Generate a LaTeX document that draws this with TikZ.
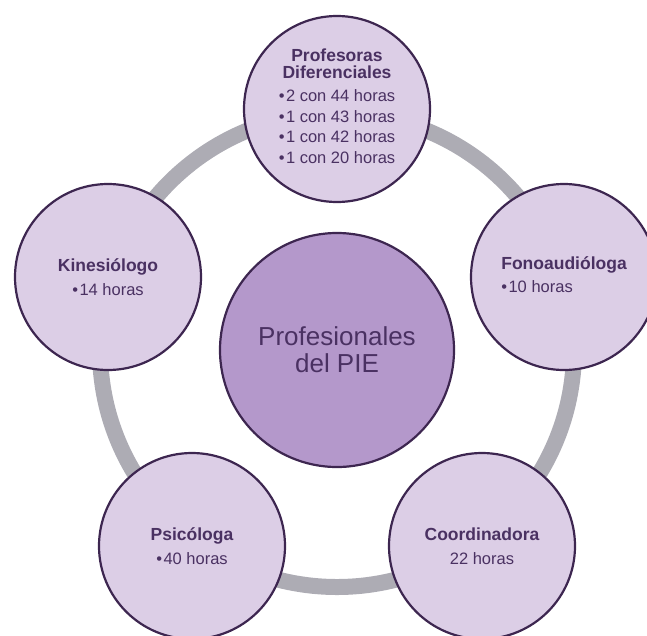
\documentclass[tikz,border=0pt]{standalone}
\usepackage{fontspec}
\setmainfont{Liberation Sans}
\definecolor{ringgray}{HTML}{ADACB4}
\definecolor{lightlav}{HTML}{DCCEE6}
\definecolor{midlav}{HTML}{B498CB}
\definecolor{edgepurple}{HTML}{3D2650}
\definecolor{textpurple}{HTML}{4A3162}
\newcommand{\ttlfont}{\fontsize{17.5}{17.5}\selectfont\bfseries}
\newcommand{\bul}{•\hspace{1.5pt}}
\begin{document}
\begin{tikzpicture}[x=1pt,y=-1pt,
  outer/.style={circle, draw=edgepurple, line width=2.2pt, fill=lightlav,
    minimum size=186pt, inner sep=0pt, text=textpurple, align=center,
    font=\fontsize{16.5}{20.5}\selectfont},
  inner/.style={circle, draw=edgepurple, line width=2.2pt, fill=midlav,
    minimum size=234pt, inner sep=0pt, text=textpurple, align=center,
    font=\fontsize{26}{27}\selectfont},
  ring/.style={draw=ringgray, line width=16pt}]
\useasboundingbox (0,0) rectangle (647,635);
\clip (0,0) rectangle (647,635);
\coordinate (ctr) at (337,350);
\draw[ring] (ctr) circle [radius=237pt];
\node[inner] (pie) at (ctr) {Profesionales\\del PIE};
\node[outer] (prof) at (337,109) {{\ttlfont Profesoras}\\[-3.5pt]{\ttlfont Diferenciales}\\[8pt]%
  \begin{tabular}{@{}l@{}}\bul 2 con 44 horas\\ \bul 1 con 43 horas\\ \bul 1 con 42 horas\\ \bul 1 con 20 horas\end{tabular}};
\node[outer] (fono) at (564,277) {\begin{tabular}{@{}l@{}}{\ttlfont Fonoaudióloga}\\[3pt] \bul 10 horas\end{tabular}};
\node[outer] (coord) at (482,546) {{\ttlfont Coordinadora}\\[3pt]22 horas};
\node[outer] (psi) at (192,546) {{\ttlfont Psicóloga}\\[3pt]\bul 40 horas};
\node[outer] (kine) at (108,277) {{\ttlfont Kinesiólogo}\\[3pt]\bul 14 horas};
\end{tikzpicture}
\end{document}
